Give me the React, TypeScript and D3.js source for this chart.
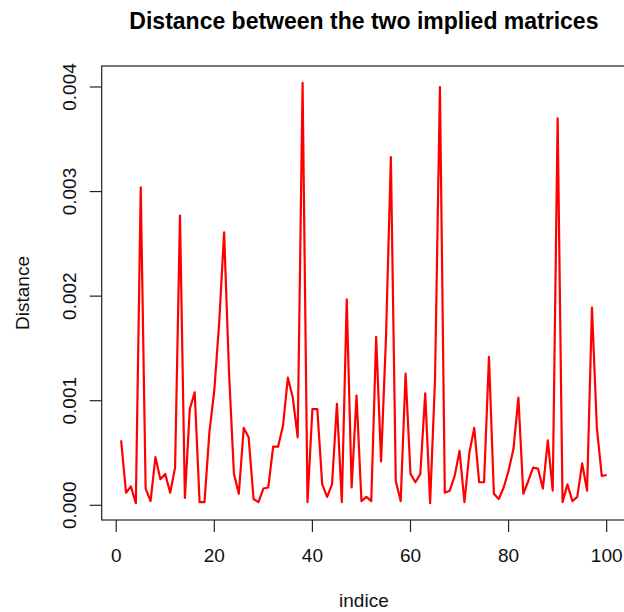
import { useEffect, useRef } from "react";
import * as d3 from "d3";

// values (index 1..100)
const indices = d3.range(1, 101);
const distance = [
  0.00062, 0.00012, 0.00018, 0.00002, 0.00304, 0.00016, 0.00004, 0.00046, 0.00025, 0.0003,
  0.00012, 0.00036, 0.00277, 0.00007, 0.00092, 0.00108, 0.00003, 0.00003, 0.0007, 0.0011,
  0.00175, 0.00261, 0.00127, 0.0003, 0.00011, 0.00074, 0.00065, 0.00006, 0.00003, 0.00016,
  0.00017, 0.00056, 0.00056, 0.00076, 0.00122, 0.00103, 0.00065, 0.00404, 0.00003, 0.00092,
  0.00092, 0.0002, 0.00008, 0.0002, 0.00097, 0.00003, 0.00197, 0.00017, 0.00105, 0.00004,
  0.00008, 0.00004, 0.00161, 0.00042, 0.0016, 0.00333, 0.00023, 0.00004, 0.00126, 0.0003,
  0.00022, 0.0003, 0.00107, 0.00002, 0.0012, 0.004, 0.00012, 0.00014, 0.00028, 0.00052,
  0.00003, 0.0005, 0.00074, 0.00022, 0.00022, 0.00142, 0.00011, 0.00006, 0.00017, 0.00033,
  0.00054, 0.00103, 0.00011, 0.00023, 0.00036, 0.00035, 0.00016, 0.00062, 0.00014, 0.0037,
  0.00003, 0.0002, 0.00004, 0.00008, 0.0004, 0.00014, 0.00189, 0.00074, 0.00028, 0.00029,
];
const xTicks = [0, 20, 40, 60, 80, 100];
const yTicks = [0, 0.001, 0.002, 0.003, 0.004];

const title = "Distance between the two implied matrices";
const xLabel = "indice";
const yLabel = "Distance";

export default function App() {
  const svgRef = useRef(null);

  useEffect(() => {
    if (!svgRef.current) return;
    d3.select(svgRef.current).selectAll("*").remove();

    const width = 624;
    const height = 612;
    const left = 101.7;
    const right = 626.1;
    const top = 66;
    const bottom = 520;
    const font = "'Liberation Sans', Arial, sans-serif";

    // R style 4% padding on both axes
    const pad = (ext) => {
      const r = ext[1] - ext[0];
      return [ext[0] - r * 0.04, ext[1] + r * 0.04];
    };

    const x = d3.scaleLinear().domain(pad(d3.extent(indices))).range([left, right]);
    const y = d3.scaleLinear().domain(pad(d3.extent(distance))).range([bottom, top]);

    const svg = d3.select(svgRef.current).attr("width", width).attr("height", height);

    svg.append("rect").attr("width", width).attr("height", height).attr("fill", "#ffffff");

    // Line
    const line = d3
      .line()
      .x((d, i) => x(indices[i]))
      .y((d) => y(d));

    svg
      .append("path")
      .datum(distance)
      .attr("d", line)
      .attr("fill", "none")
      .attr("stroke", "#ff0000")
      .attr("stroke-width", 2.2)
      .attr("stroke-linejoin", "round");

    // Box
    svg
      .append("rect")
      .attr("x", left)
      .attr("y", top)
      .attr("width", right - left)
      .attr("height", bottom - top)
      .attr("fill", "none")
      .attr("stroke", "#222")
      .attr("stroke-width", 1.2);

    // X axis ticks
    svg
      .selectAll(".xtick")
      .data(xTicks)
      .enter()
      .append("line")
      .attr("x1", (d) => x(d))
      .attr("x2", (d) => x(d))
      .attr("y1", bottom)
      .attr("y2", bottom + 12)
      .attr("stroke", "#222")
      .attr("stroke-width", 1.2);

    svg
      .selectAll(".xlab")
      .data(xTicks)
      .enter()
      .append("text")
      .attr("x", (d) => x(d))
      .attr("y", 562)
      .attr("text-anchor", "middle")
      .style("font-family", font)
      .style("font-size", "19px")
      .style("fill", "#111")
      .text((d) => d);

    // Y axis ticks
    svg
      .selectAll(".ytick")
      .data(yTicks)
      .enter()
      .append("line")
      .attr("x1", left - 12)
      .attr("x2", left)
      .attr("y1", (d) => y(d))
      .attr("y2", (d) => y(d))
      .attr("stroke", "#222")
      .attr("stroke-width", 1.2);

    svg
      .selectAll(".ylab")
      .data(yTicks)
      .enter()
      .append("text")
      .attr("transform", (d) => `translate(76,${y(d)}) rotate(-90)`)
      .attr("text-anchor", "middle")
      .style("font-family", font)
      .style("font-size", "19px")
      .style("fill", "#111")
      .text((d) => d3.format(".3f")(d));

    // Titles
    svg
      .append("text")
      .attr("x", (left + right) / 2)
      .attr("y", 29)
      .attr("text-anchor", "middle")
      .style("font-family", font)
      .style("font-size", "23px")
      .style("font-weight", "bold")
      .style("fill", "#000")
      .text(title);

    svg
      .append("text")
      .attr("x", (left + right) / 2)
      .attr("y", 607)
      .attr("text-anchor", "middle")
      .style("font-family", font)
      .style("font-size", "19px")
      .style("fill", "#111")
      .text(xLabel);

    svg
      .append("text")
      .attr("transform", `translate(29,${(top + bottom) / 2}) rotate(-90)`)
      .attr("text-anchor", "middle")
      .style("font-family", font)
      .style("font-size", "19px")
      .style("fill", "#111")
      .text(yLabel);
  }, []);

  return (
    <div style={{ position: "fixed", left: 0, top: 0 }}>
      <svg ref={svgRef} style={{ display: "block" }}></svg>
    </div>
  );
}
